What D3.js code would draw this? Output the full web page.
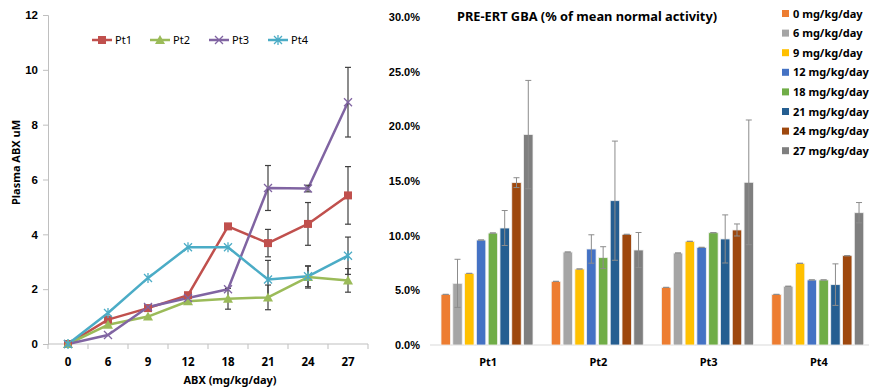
<!DOCTYPE html>
<html>
<head>
<meta charset="utf-8">
<script src="https://cdn.jsdelivr.net/npm/d3@7"></script>
<style>
  body { margin: 0; background: #fff; }
  svg { display: block; font-family: "Noto Sans", "Open Sans", sans-serif; }
  .tick text { font-weight: bold; }
</style>
</head>
<body>
<svg id="chart" width="869" height="390"></svg>
<script>
// ---- Left panel: plasma ABX by dose ----
const doses = ["0", "6", "9", "12", "18", "21", "24", "27"];
const patients = ["Pt1", "Pt2", "Pt3", "Pt4"];
const pt1Plasma = [0, 0.89, 1.31, 1.78, 4.29, 3.68, 4.38, 5.42];
const pt2Plasma = [0, 0.70, 1.00, 1.56, 1.65, 1.70, 2.44, 2.32];
const pt3Plasma = [0, 0.33, 1.35, 1.68, 2.00, 5.69, 5.67, 8.82];
const pt4Plasma = [0, 1.13, 2.41, 3.53, 3.53, 2.35, 2.47, 3.22];
const pt1PlasmaErr = [0, 0, 0, 0, 0, 0.50, 0.78, 1.05];
const pt2PlasmaErr = [0, 0, 0, 0, 0.38, 0.45, 0.40, 0.43];
const pt3PlasmaErr = [0, 0, 0, 0, 0, 0.82, 0.12, 1.27];
const pt4PlasmaErr = [0, 0, 0, 0, 0, 0.70, 0.38, 0.68];
const lineColors = ["#C0504D", "#9BBB59", "#8064A2", "#4BACC6"];
const markerShapes = ["square", "triangle", "x", "star"];
const plasmaTicks = [0, 2, 4, 6, 8, 10, 12];

// ---- Right panel: pre-ERT GBA activity ----
const doseLabels = ["0 mg/kg/day", "6 mg/kg/day", "9 mg/kg/day", "12 mg/kg/day",
                    "18 mg/kg/day", "21 mg/kg/day", "24 mg/kg/day", "27 mg/kg/day"];
const barColors = ["#ED7D31", "#A5A5A5", "#FFC000", "#4472C4",
                   "#70AD47", "#255E91", "#9E480E", "#7F7F7F"];
const pt1Gba = [4.63, 5.64, 6.55, 9.60, 10.24, 10.70, 14.85, 19.25];
const pt2Gba = [5.82, 8.50, 6.95, 8.78, 7.99, 13.20, 10.12, 8.69];
const pt3Gba = [5.27, 8.41, 9.48, 8.93, 10.27, 9.70, 10.52, 14.88];
const pt4Gba = [4.63, 5.37, 7.47, 5.95, 5.95, 5.52, 8.17, 12.10];
const pt1GbaErr = [0, 2.20, 0, 0, 0, 1.60, 0.45, 4.95];
const pt2GbaErr = [0, 0, 0, 1.30, 1.00, 5.45, 0, 1.60];
const pt3GbaErr = [0, 0, 0, 0, 0, 2.20, 0.55, 5.70];
const pt4GbaErr = [0, 0, 0, 0, 0, 1.90, 0, 0.93];
const gbaTicks = [0, 5, 10, 15, 20, 25, 30];

const svg = d3.select("#chart");

// ================= Line chart =================
const L = { left: 48, right: 368, top: 15, bottom: 344 };
const xL = d3.scaleBand().domain(doses).range([L.left, L.right]);
const yL = d3.scaleLinear().domain([0, 12]).range([L.bottom, L.top]);

const gridColor = "#BFBFBF";
const gl = svg.append("g");

// y axis
const yAxisL = gl.append("g").attr("transform", `translate(${L.left},0)`)
  .call(d3.axisLeft(yL).tickValues(plasmaTicks).tickSize(5).tickPadding(5));
yAxisL.select(".domain").attr("stroke", gridColor);
yAxisL.selectAll(".tick line").attr("stroke", gridColor);
yAxisL.selectAll(".tick text").attr("font-size", 11.5).attr("fill", "#000");

// x axis: ticks sit on the band boundaries, labels centred in each band
const xAxisL = gl.append("g").attr("transform", `translate(0,${L.bottom})`);
xAxisL.append("line").attr("x1", L.left).attr("x2", L.right)
  .attr("stroke", gridColor);
xAxisL.selectAll("line.bt").data(doses.concat(["end"])).join("line")
  .attr("class", "bt")
  .attr("x1", (d, i) => L.left + i * xL.bandwidth())
  .attr("x2", (d, i) => L.left + i * xL.bandwidth())
  .attr("y1", 0).attr("y2", 5).attr("stroke", gridColor);
xAxisL.selectAll("text").data(doses).join("text")
  .attr("x", d => xL(d) + xL.bandwidth() / 2)
  .attr("y", 22)
  .attr("text-anchor", "middle")
  .attr("font-size", 11.5).attr("font-weight", "bold")
  .text(d => d);

// axis titles
gl.append("text")
  .attr("transform", `translate(20,${(L.top + L.bottom) / 2 - 17}) rotate(-90)`)
  .attr("text-anchor", "middle")
  .attr("font-size", 11).attr("font-weight", "bold")
  .text("Plasma ABX uM");
gl.append("text")
  .attr("x", (L.left + L.right) / 2 + 22).attr("y", 384)
  .attr("text-anchor", "middle")
  .attr("font-size", 11).attr("font-weight", "bold")
  .text("ABX (mg/kg/day)");

const plasmaSeries = [
  { name: patients[0], values: pt1Plasma, err: pt1PlasmaErr },
  { name: patients[1], values: pt2Plasma, err: pt2PlasmaErr },
  { name: patients[2], values: pt3Plasma, err: pt3PlasmaErr },
  { name: patients[3], values: pt4Plasma, err: pt4PlasmaErr }
];
const cx = i => xL(doses[i]) + xL.bandwidth() / 2;

function drawMarker(g, shape, color, x, y) {
  if (shape === "square") {
    g.append("rect").attr("x", x - 4).attr("y", y - 4).attr("width", 8).attr("height", 8)
      .attr("fill", color);
  } else if (shape === "triangle") {
    g.append("path").attr("d", `M${x},${y - 5}L${x + 5},${y + 4}L${x - 5},${y + 4}Z`)
      .attr("fill", color);
  } else if (shape === "x") {
    g.append("path").attr("d", `M${x - 4},${y - 4}L${x + 4},${y + 4}M${x - 4},${y + 4}L${x + 4},${y - 4}`)
      .attr("stroke", color).attr("stroke-width", 1.3).attr("fill", "none");
  } else {
    g.append("path").attr("d", `M${x - 4},${y - 4}L${x + 4},${y + 4}M${x - 4},${y + 4}L${x + 4},${y - 4}M${x},${y - 5}L${x},${y + 5}`)
      .attr("stroke", color).attr("stroke-width", 1.3).attr("fill", "none");
  }
}

const line = d3.line().x((d, i) => cx(i)).y(d => yL(d));

plasmaSeries.forEach((s, k) => {
  const g = gl.append("g");
  g.append("path").datum(s.values).attr("d", line)
    .attr("fill", "none").attr("stroke", lineColors[k]).attr("stroke-width", 2.5)
    .attr("stroke-linejoin", "round");
});
// error bars
plasmaSeries.forEach(s => {
  const g = gl.append("g").attr("stroke", "#404040").attr("stroke-width", 1.2);
  s.values.forEach((v, i) => {
    const e = s.err[i];
    if (!e) return;
    const x = cx(i);
    g.append("line").attr("x1", x).attr("x2", x).attr("y1", yL(v + e)).attr("y2", yL(v - e));
    g.append("line").attr("x1", x - 3).attr("x2", x + 3).attr("y1", yL(v + e)).attr("y2", yL(v + e));
    g.append("line").attr("x1", x - 3).attr("x2", x + 3).attr("y1", yL(v - e)).attr("y2", yL(v - e));
  });
});
plasmaSeries.forEach((s, k) => {
  const g = gl.append("g");
  s.values.forEach((v, i) => drawMarker(g, markerShapes[k], lineColors[k], cx(i), yL(v)));
});

// legend
const legX = [92, 150, 209, 268];
patients.forEach((p, k) => {
  const g = gl.append("g").attr("transform", `translate(${legX[k]},40)`);
  g.append("line").attr("x1", 0).attr("x2", 20).attr("stroke", lineColors[k]).attr("stroke-width", 2.5);
  drawMarker(g, markerShapes[k], lineColors[k], 10, 0);
  g.append("text").attr("x", 23).attr("y", 4).attr("font-size", 11).text(p);
});

// ================= Bar chart =================
const R = { left: 432, right: 873, top: 17, bottom: 345 };
const x0 = d3.scaleBand().domain(patients).range([R.left, R.right]);
const x1 = d3.scaleBand().domain(doseLabels).range([9, 101]).paddingInner(0.2);
const yR = d3.scaleLinear().domain([0, 30]).range([R.bottom, R.top]);

const gr = svg.append("g");
const yAxisR = gr.append("g").attr("transform", `translate(${R.left - 12},0)`)
  .call(d3.axisLeft(yR).tickValues(gbaTicks).tickSize(0).tickPadding(0)
    .tickFormat(d => d.toFixed(1) + "%"));
yAxisR.select(".domain").remove();
yAxisR.selectAll(".tick text").attr("font-size", 11).attr("fill", "#000");

gr.append("line").attr("x1", R.left - 2).attr("x2", R.right).attr("y1", R.bottom).attr("y2", R.bottom)
  .attr("stroke", "#D9D9D9");

const gbaSeries = [
  { name: patients[0], values: pt1Gba, err: pt1GbaErr },
  { name: patients[1], values: pt2Gba, err: pt2GbaErr },
  { name: patients[2], values: pt3Gba, err: pt3GbaErr },
  { name: patients[3], values: pt4Gba, err: pt4GbaErr }
];

gbaSeries.forEach(s => {
  const g = gr.append("g").attr("transform", `translate(${x0(s.name)},0)`);
  doseLabels.forEach((d, j) => {
    const v = s.values[j];
    g.append("rect")
      .attr("x", x1(d)).attr("width", x1.bandwidth())
      .attr("y", yR(v)).attr("height", yR(0) - yR(v))
      .attr("fill", barColors[j]).attr("stroke", "#F2F2F2").attr("stroke-width", 0.8);
  });
  doseLabels.forEach((d, j) => {
    const v = s.values[j], e = s.err[j];
    const x = x1(d) + x1.bandwidth() / 2;
    const eg = g.append("g").attr("stroke", "#8C8C8C").attr("stroke-width", 1);
    eg.append("line").attr("x1", x).attr("x2", x).attr("y1", yR(v + e)).attr("y2", yR(v - e));
    eg.append("line").attr("x1", x - 3).attr("x2", x + 3).attr("y1", yR(v + e)).attr("y2", yR(v + e));
    eg.append("line").attr("x1", x - 3).attr("x2", x + 3).attr("y1", yR(v - e)).attr("y2", yR(v - e));
  });
  gr.append("text")
    .attr("x", x0(s.name) + x0.bandwidth() / 2 + 1).attr("y", 366)
    .attr("text-anchor", "middle").attr("font-size", 11).attr("font-weight", "bold")
    .text(s.name);
});

// title
gr.append("text").attr("x", 457).attr("y", 21)
  .attr("font-size", 12.8).attr("font-weight", "bold")
  .text("PRE-ERT GBA (% of mean normal activity)");

// legend
doseLabels.forEach((d, j) => {
  const g = gr.append("g").attr("transform", `translate(782,${13.5 + j * 19.6})`);
  g.append("rect").attr("x", 0).attr("y", -3.5).attr("width", 7).attr("height", 7).attr("fill", barColors[j]);
  g.append("text").attr("x", 11).attr("y", 4).attr("font-size", 11).attr("font-weight", "bold").text(d);
});
</script>
</body>
</html>
